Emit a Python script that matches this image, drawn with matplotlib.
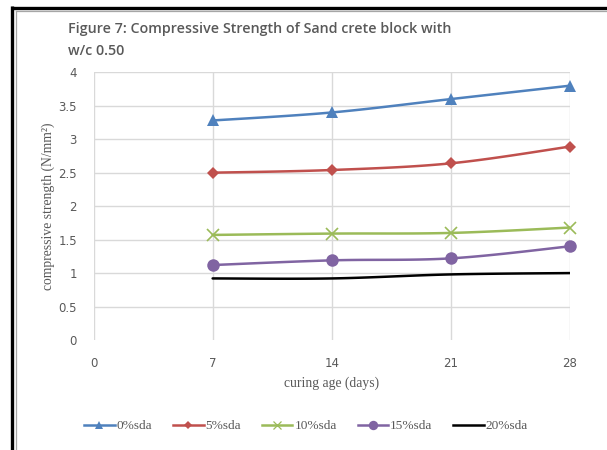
import numpy as np
import matplotlib
matplotlib.use("Agg")
import matplotlib.pyplot as plt
from matplotlib.lines import Line2D

# Curing ages (days) and compressive strength for each sawdust (sda) replacement level
days = [7, 14, 21, 28]
sda_0 = [3.28, 3.40, 3.60, 3.80]
sda_5 = [2.50, 2.54, 2.64, 2.89]
sda_10 = [1.57, 1.59, 1.60, 1.68]
sda_15 = [1.12, 1.19, 1.22, 1.40]
sda_20 = [0.92, 0.92, 0.98, 1.00]
labels = ["0%sda", "5%sda", "10%sda", "15%sda", "20%sda"]
x_ticks = [0, 7, 14, 21, 28]
y_ticks = [0, 0.5, 1, 1.5, 2, 2.5, 3, 3.5, 4]

series = [sda_0, sda_5, sda_10, sda_15, sda_20]
colors = ["#4F81BD", "#C0504D", "#9BBB59", "#8064A2", "#000000"]
markers = ["^", "D", "x", "o", None]
msizes = [8, 6, 8, 9, 0]


def smooth(x, y, n=30):
    """Bezier smoothing through the points (cardinal-spline style)."""
    x = np.asarray(x, float)
    y = np.asarray(y, float)
    px, py = [], []
    k = len(x)
    for i in range(k - 1):
        x0, y0 = (x[i - 1], y[i - 1]) if i > 0 else (x[i], y[i])
        x3, y3 = (x[i + 2], y[i + 2]) if i + 2 < k else (x[i + 1], y[i + 1])
        c1x = x[i] + (x[i + 1] - x0) / 6.0
        c1y = y[i] + (y[i + 1] - y0) / 6.0
        c2x = x[i + 1] - (x3 - x[i]) / 6.0
        c2y = y[i + 1] - (y3 - y[i]) / 6.0
        t = np.linspace(0, 1, n)
        bx = (1 - t) ** 3 * x[i] + 3 * (1 - t) ** 2 * t * c1x + 3 * (1 - t) * t ** 2 * c2x + t ** 3 * x[i + 1]
        by = (1 - t) ** 3 * y[i] + 3 * (1 - t) ** 2 * t * c1y + 3 * (1 - t) * t ** 2 * c2y + t ** 3 * y[i + 1]
        px.extend(bx)
        py.extend(by)
    return np.array(px), np.array(py)


W, H = 607, 450
fig = plt.figure(figsize=(W / 100, H / 100), dpi=100)
ax = fig.add_axes([93.5 / W, 1 - 340 / H, (570 - 93.5) / W, (340 - 72.3) / H])

handles = []
for vals, c, m, ms, lab in zip(series, colors, markers, msizes, labels):
    sx, sy = smooth(days, vals)
    ax.plot(sx, sy, color=c, lw=1.8, zorder=3, solid_capstyle="round")
    if m is not None:
        mew = 1.2 if m == "x" else 0
        ax.plot(days, vals, linestyle="none", marker=m, ms=ms, color=c,
                markeredgewidth=mew, markeredgecolor=c, zorder=4, clip_on=False)
    handles.append(Line2D([0], [0], color=c, lw=1.8, marker=m if m else None,
                          ms=ms * 0.75 if m else 0, markeredgewidth=0.9 if m == "x" else 0,
                          markeredgecolor=c))

ax.set_xlim(0, 28)
ax.set_ylim(0, 4)
ax.set_xticks(x_ticks)
ax.set_yticks(y_ticks)
ax.set_xticklabels([str(v) for v in x_ticks])
ax.set_yticklabels([f"{v:g}" for v in y_ticks])
for s in ax.spines.values():
    s.set_visible(False)
ax.grid(True, color="#D9D9D9", lw=1.0)
ax.get_ygridlines()[0].set_visible(False)
ax.set_axisbelow(True)
ax.tick_params(length=0, colors="#595959", labelsize=8.5)
ax.tick_params(axis="y", pad=12)
ax.tick_params(axis="x", pad=12)
for t in ax.get_xticklabels() + ax.get_yticklabels():
    t.set_fontfamily("Liberation Sans Narrow")

ax.set_ylabel("compressive strength (N/mm\u00b2)", family="Liberation Serif",
              fontsize=9.8, color="#595959", labelpad=2)
ax.set_xlabel("curing age (days)", family="Liberation Serif", fontsize=9.8,
              color="#595959", labelpad=5)

fig.text(68 / W, 1 - 40 / H, "Figure 7: Compressive Strength of Sand crete block with\nw/c 0.50",
         family="Open Sans", fontweight="semibold", fontsize=10.3, color="#595959",
         ha="left", va="center", linespacing=1.75)

fig.legend(handles, labels, loc="center", bbox_to_anchor=(306 / W, 1 - 426 / H),
           ncol=5, frameon=False, handlelength=2.3, handletextpad=0.15,
           columnspacing=1.55, prop={"family": "Liberation Serif", "size": 9.6},
           labelcolor="#595959")

# outer frame lines
fig.add_artist(Line2D([12.5 / W, 12.5 / W], [0, 1 - 6 / H], transform=fig.transFigure,
                      color="black", lw=2.4, solid_capstyle="butt"))
fig.add_artist(Line2D([11 / W, 1], [1 - 7.5 / H, 1 - 7.5 / H], transform=fig.transFigure,
                      color="black", lw=2.4, solid_capstyle="butt"))
fig.add_artist(Line2D([16 / W, 16 / W], [0, 1 - 11 / H], transform=fig.transFigure,
                      color="#A6A6A6", lw=0.9))
fig.add_artist(Line2D([16 / W, 1], [1 - 11 / H, 1 - 11 / H], transform=fig.transFigure,
                      color="#A6A6A6", lw=0.9))

fig.savefig("out.png", dpi=100)
